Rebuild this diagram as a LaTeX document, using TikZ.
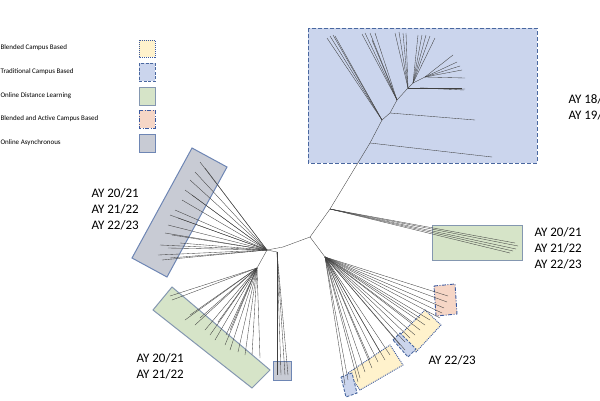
\documentclass[tikz,border=0pt]{standalone}
\usepackage{fontspec}
\setmainfont{Carlito}
\begin{document}
\begin{tikzpicture}[x=1pt,y=-1pt,
  br/.style={line width=0.35pt,black!75},
  leg/.style={anchor=west,font=\fontsize{7}{8}\selectfont},
  ay/.style={font=\fontsize{13}{16}\selectfont,align=left,anchor=west},
  bl/.style={fill=blue!5!cyan!3!white,fill={rgb,255:red,203;green,213;blue,237},draw={rgb,255:red,74;green,104;blue,160},line width=0.9pt,dash pattern=on 4pt off 2pt},
  ye/.style={fill={rgb,255:red,255;green,242;blue,204},draw={rgb,255:red,60;green,90;blue,160},line width=0.9pt,dash pattern=on 1pt off 1pt},
  gr/.style={fill={rgb,255:red,214;green,228;blue,200},draw={rgb,255:red,132;green,151;blue,176},line width=1pt},
  ora/.style={fill={rgb,255:red,246;green,214;blue,198},draw={rgb,255:red,60;green,90;blue,160},line width=0.9pt,dash pattern=on 4pt off 1.5pt on 1pt off 1.5pt},
  gy/.style={fill={rgb,255:red,200;green,203;blue,212},draw={rgb,255:red,110;green,134;blue,180},line width=1pt}]
\useasboundingbox (0,0) rectangle (600,400);
% boxes
\draw[bl] (308,28) rectangle (537,163);
\draw[gr] (432,225) rectangle (522,260);
\draw[gy] (192,148) -- (227,167) -- (167,277) -- (132,258) -- cycle;
\draw[gr] (172,287) -- (270,370) -- (252,388) -- (153,310) -- cycle;
\draw[gy] (273,361) rectangle (291,380);
\draw[ora] (434,286) -- (455,284) -- (457,314) -- (436,316) -- cycle;
\draw[ye] (398,337) -- (425,310) -- (441,325) -- (416,352) -- cycle;
\draw[bl,dash pattern=on 3pt off 1.5pt] (393,340) -- (400,333) -- (416,349) -- (408,357) -- cycle;
\draw[ye] (348,373) -- (390,345) -- (403,365) -- (360,390) -- cycle;
\draw[bl,dash pattern=on 3pt off 1.5pt] (341,377) -- (352,373) -- (357,393) -- (346,397) -- cycle;
% tree nodes
\coordinate (c) at (310,237);
\coordinate (u1) at (330,209);
\coordinate (u2) at (370,143);
\coordinate (u3) at (382,120);
\coordinate (u4) at (390,113);
\coordinate (u5) at (397,100);
\coordinate (u6) at (408,88);
\coordinate (u7) at (413,83);
\coordinate (u8) at (425,77);
\coordinate (u9) at (420,88);
\coordinate (lr) at (325,257);
\coordinate (lh) at (283,247);
\coordinate (l0) at (267,250);
\coordinate (lg) at (257,268);
\coordinate (ls) at (277,252);
\draw[br] (c) -- (u1) -- (u2) -- (u3) -- (u4) -- (u5) -- (u6) -- (u7) -- (u8);
\draw[br] (u6) -- (u9);
\draw[br] (c) -- (lr);
\draw[br] (c) -- (lh) -- (l0) -- (lg);
\draw[br] (l0) -- (ls);
\draw[br] (u2) -- (492,157);
\draw[br] (u4) -- (475,120);
\foreach \p in {(327,38),(330,36),(333,35),(335,36)} \draw[br] (u3) -- \p;
\foreach \p in {(362,34),(365,33),(370,33),(375,33),(372,40)} \draw[br] (u5) -- \p;
\foreach \p in {(395,33),(399,32),(403,33),(406,33)} \draw[br] (u6) -- \p;
\foreach \p in {(418,35),(422,35),(426,35),(430,36),(435,38)} \draw[br] (u7) -- \p;
\foreach \p in {(453,55),(457,62),(460,66),(462,70),(465,78)} \draw[br] (u8) -- \p;
\foreach \p in {(465,89),(464,90),(462,88)} \draw[br] (u9) -- \p;
\foreach \p in {(515,243),(518,246),(516,249),(513,251),(510,253)} \draw[br] (u1) -- \p;
\foreach \p in {(200,162),(205,168),(195,172),(190,180),(185,190),(192,195),(182,200),(175,210),(170,215),(178,218),(168,225),(165,233),(172,235),(160,245),(168,248),(158,255),(162,260),(170,258),(180,243)} \draw[br] (l0) -- \p;
\foreach \p in {(170,296),(172,300),(190,315),(185,320),(200,318),(205,330),(210,335),(215,340),(225,345),(230,350),(238,352),(245,355),(252,355),(260,358),(230,330),(218,322),(226,335),(195,325)} \draw[br] (lg) -- \p;
\foreach \p in {(277,375),(281,375),(285,375),(288,375)} \draw[br] (ls) -- \p;
\foreach \p in {(448,296),(447,302),(444,308),(442,313),(440,318),(430,320),(425,325),(420,330),(415,335),(410,338),(405,342),(412,322),(420,318),(400,345),(405,350),(390,355),(385,360),(378,362),(372,368),(365,372),(360,378),(380,352),(370,360),(358,382),(345,385),(348,380)} \draw[br] (lr) -- \p;
% labels
\node[ay] (t1) at (565,107) {AY 18/19\\AY 19/20};
\node[ay] (t2) at (531,248) {AY 20/21\\AY 21/22\\AY 22/23};
\node[ay] (t3) at (88,209) {AY 20/21\\AY 21/22\\AY 22/23};
\node[ay] (t4) at (133,366) {AY 20/21\\AY 21/22};
\node[ay] (t5) at (425,360) {AY 22/23};
% legend
\node[leg] (g1) at (-3,48) {Blended Campus Based};
\node[leg] (g2) at (-3,72) {Traditional Campus Based};
\node[leg] (g3) at (-3,96) {Online Distance Learning};
\node[leg] (g4) at (-3,119) {Blended and Active Campus Based};
\node[leg] (g5) at (-3,143) {Online Asynchronous};
\draw[ye] (139,40) rectangle (155,57);
\draw[bl,dash pattern=on 3pt off 1.5pt] (139,63) rectangle (155,81);
\draw[gr] (139,87) rectangle (155,105);
\draw[ora] (139,110) rectangle (155,128);
\draw[gy] (139,134) rectangle (155,152);
\end{tikzpicture}
\end{document}
